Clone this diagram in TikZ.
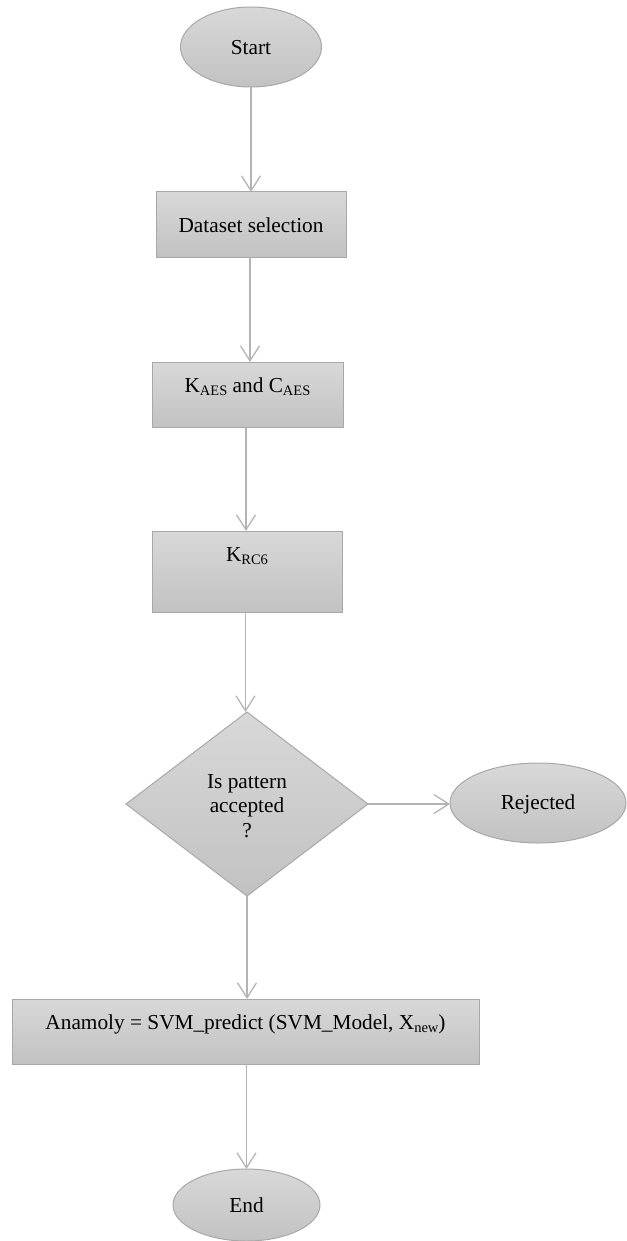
\documentclass[tikz,border=0pt]{standalone}
\usepackage{fontspec}
\setmainfont{Liberation Serif}
\usetikzlibrary{shapes.geometric,arrows.meta}
\definecolor{fillTop}{RGB}{216,216,216}
\definecolor{fillBot}{RGB}{194,194,194}
\definecolor{edgeGray}{RGB}{168,168,168}
\definecolor{lineGray}{RGB}{180,180,180}
\newcommand{\sbs}[1]{\raisebox{-3.3pt}{\fontsize{14.5}{14.5}\selectfont #1}}
\begin{document}
\begin{tikzpicture}[x=1pt,y=-1pt,
  shapebase/.style={draw=edgeGray, line width=1pt, top color=fillTop, bottom color=fillBot, inner sep=0pt, outer sep=0pt},
  boxnode/.style={shapebase, rectangle, minimum width=#1},
  boxnode/.default=191,
  ovalnode/.style={shapebase, ellipse},
  decnode/.style={shapebase, diamond, minimum width=242, minimum height=184},
  txt/.style={inner sep=0pt, font=\fontsize{21.3}{24.5}\selectfont, align=center},
  flow/.style={draw=lineGray, line width=1.4pt, -{Straight Barb[length=15pt,width=19pt,line width=1.3pt]}}
]
\useasboundingbox (0,0) rectangle (626,1241);

\node[ovalnode, minimum width=141, minimum height=80] (start) at (251,47) {};
\node[txt] (startt) at (251,48) {Start};

\node[boxnode=190, minimum height=65] (ds) at (251,224.5) {};
\node[txt] (dst) at (251,225) {Dataset selection};

\node[boxnode=191, minimum height=65] (aes) at (247.5,394.5) {};
\node[txt] (aest) at (247.5,387) {K\sbs{AES} and C\sbs{AES}};

\node[boxnode=190, minimum height=81] (rc6) at (247,571.5) {};
\node[txt] (rc6t) at (247,556) {K\sbs{RC6}};

\node[decnode] (dec) at (247,804) {};
\node[txt] (dect) at (247,806) {Is pattern\\accepted\\?};

\node[ovalnode, minimum width=176, minimum height=80] (rej) at (538,803) {};
\node[txt] (rejt) at (538,804) {Rejected};

\node[boxnode=467, minimum height=65] (svm) at (245.5,1031.5) {};
\node[txt] (svmt) at (245.5,1024) {Anamoly = SVM\_predict (SVM\_Model, X\sbs{new})};

\node[ovalnode, minimum width=147, minimum height=72] (fin) at (246.5,1205) {};
\node[txt] (fint) at (246.5,1205) {End};

\draw[flow] (start.south) -- (ds.north);
\draw[flow] ([xshift=-1pt]ds.south) -- ([xshift=-1pt]ds.south |- aes.north);
\draw[flow] ([xshift=-1.5pt]aes.south) -- ([xshift=-1.5pt]aes.south |- rc6.north);
\draw[flow] ([xshift=-1.5pt]rc6.south) -- ([xshift=-1.5pt]rc6.south |- dec.north);
\draw[flow] (dec.south) -- (dec.south |- svm.north);
\draw[flow] ([xshift=1pt]svm.south) -- ([xshift=1pt]svm.south |- fin.north);
\draw[flow] (dec.east) -- (dec.east -| rej.west);
\end{tikzpicture}
\end{document}
